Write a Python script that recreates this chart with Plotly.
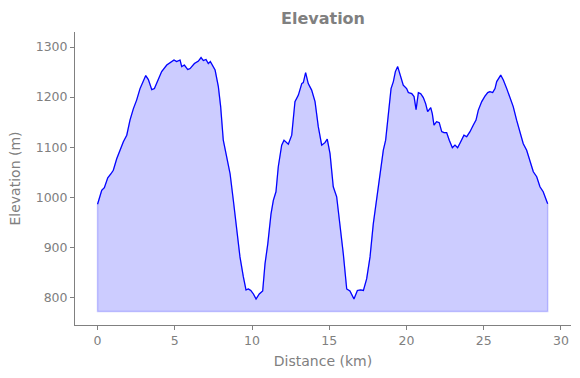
import plotly.graph_objects as go

distance_km = [0.0, 0.27, 0.44, 0.66, 0.87, 1.02, 1.24, 1.46, 1.67, 1.89, 2.10, 2.32, 2.53, 2.75,
               2.97, 3.12, 3.29, 3.51, 3.68, 3.94, 4.15, 4.48, 4.69, 4.95, 5.12, 5.34, 5.45, 5.62,
               5.84, 5.99, 6.27, 6.53, 6.70, 6.85, 7.02, 7.17, 7.30, 7.50, 7.61, 7.82, 7.97, 8.14,
               8.36, 8.58, 8.79, 9.01, 9.22, 9.44, 9.61, 9.76, 9.92, 10.09, 10.26, 10.47, 10.69,
               10.84, 11.02, 11.23, 11.38, 11.55, 11.70, 11.92, 12.07, 12.35, 12.57, 12.78, 13.00,
               13.22, 13.32, 13.47, 13.64, 13.86, 14.08, 14.29, 14.51, 14.72, 14.87, 15.05, 15.26,
               15.48, 15.70, 15.91, 16.13, 16.34, 16.60, 16.82, 17.03, 17.21, 17.42, 17.64, 17.85,
               18.07, 18.28, 18.50, 18.65, 18.82, 19.00, 19.15, 19.28, 19.43, 19.58, 19.79, 20.01,
               20.12, 20.34, 20.49, 20.62, 20.77, 20.92, 21.09, 21.24, 21.37, 21.57, 21.67, 21.78,
               21.95, 22.12, 22.28, 22.43, 22.60, 22.77, 22.97, 23.14, 23.31, 23.51, 23.72, 23.90,
               24.11, 24.32, 24.50, 24.65, 24.87, 25.08, 25.26, 25.40, 25.58, 25.73, 25.84, 26.10,
               26.27, 26.49, 26.70, 26.91, 27.13, 27.35, 27.56, 27.78, 27.99, 28.21, 28.43, 28.64,
               28.85, 29.14]

elevation_m = [986, 1014, 1019, 1039, 1047, 1054, 1077, 1094, 1111, 1124, 1154, 1177, 1194, 1217,
               1234, 1243, 1235, 1215, 1217, 1234, 1251, 1264, 1269, 1274, 1271, 1274, 1261, 1264,
               1255, 1257, 1267, 1272, 1279, 1273, 1275, 1267, 1271, 1261, 1254, 1221, 1181, 1114,
               1081, 1047, 994, 934, 881, 841, 815, 817, 814, 807, 797, 807, 813,
               867, 907, 967, 994, 1011, 1061, 1104, 1114, 1106, 1124, 1191, 1204,
               1227, 1229, 1249, 1227, 1214, 1191, 1141, 1104, 1109, 1116, 1087, 1021,
               1001, 947, 887, 817, 813, 797, 814, 815, 814, 837, 881, 947,
               1000, 1047, 1094, 1114, 1167, 1217, 1231, 1251, 1261, 1247, 1224, 1217,
               1209, 1207, 1201, 1175, 1209, 1207, 1199, 1187, 1171, 1179, 1167, 1144,
               1151, 1149, 1131, 1129, 1129, 1114, 1099, 1104, 1099, 1111, 1124, 1121,
               1131, 1144, 1154, 1174, 1191, 1202, 1209, 1211, 1209, 1217, 1231, 1244,
               1234, 1217, 1197, 1181, 1154, 1131, 1107, 1094, 1074, 1051, 1041, 1021,
               1011, 987]

baseline_m = 772
x_ticks = [0, 5, 10, 15, 20, 25, 30]
y_ticks = [800, 900, 1000, 1100, 1200, 1300]

gray = "#808080"
font = "DejaVu Sans"

# filled area polygon (profile down to baseline)
poly_x = distance_km + [distance_km[-1], distance_km[0], distance_km[0]]
poly_y = elevation_m + [baseline_m, baseline_m, elevation_m[0]]

fig = go.Figure()
fig.add_trace(go.Scatter(x=poly_x, y=poly_y, mode="lines", fill="toself",
                         fillcolor="rgba(0,0,255,0.2)",
                         line=dict(color="rgba(0,0,255,0.2)", width=1.5),
                         hoverinfo="skip", showlegend=False))
fig.add_trace(go.Scatter(x=distance_km, y=elevation_m, mode="lines",
                         line=dict(color="#0000ff", width=1.2),
                         showlegend=False))

axis_common = dict(showgrid=False, zeroline=False, showline=True, linecolor=gray,
                   linewidth=1, ticks="outside", ticklen=4, tickcolor=gray,
                   tickfont=dict(family=font, size=12.5, color=gray))

fig.update_layout(
    width=580, height=378,
    margin=dict(l=75, r=9, t=32, b=53),
    paper_bgcolor="white", plot_bgcolor="white",
    title=dict(text="<b>Elevation</b>", x=0.5, xref="paper", xanchor="center",
               y=1 - 18 / 378, yref="container", yanchor="middle",
               font=dict(family=font, size=16, color=gray)),
    xaxis=dict(range=[-1.46, 30.65], tickvals=x_ticks,
               title=dict(text="Distance (km)", font=dict(family=font, size=14, color=gray),
                          standoff=9),
               **axis_common),
    yaxis=dict(range=[745, 1330], tickvals=y_ticks,
               title=dict(text="Elevation (m)", font=dict(family=font, size=14, color=gray),
                          standoff=11),
               **axis_common),
)

fig.write_html("out.html", config={"displayModeBar": False},
               post_script="document.body.style.margin='0';document.body.style.padding='0';")
